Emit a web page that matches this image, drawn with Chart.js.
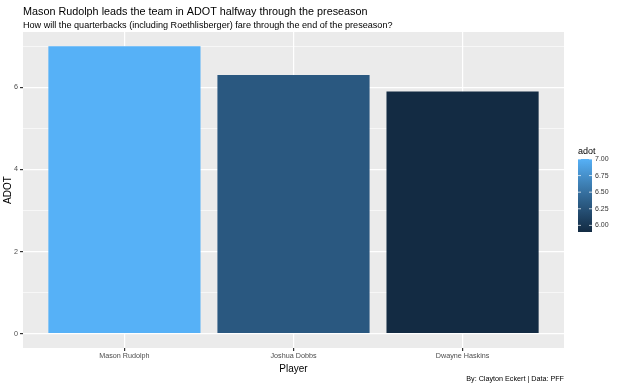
<!DOCTYPE html>
<html>
<head>
<meta charset="utf-8">
<script src="https://cdn.jsdelivr.net/npm/chart.js@4"></script>
<style>
  html, body { margin: 0; padding: 0; background: #fff; }
  #wrap { width: 620px; height: 386px; }
</style>
</head>
<body>
<div id="wrap"><canvas id="adotChart" width="620" height="386"></canvas></div>
<script>
const players = ["Mason Rudolph", "Joshua Dobbs", "Dwayne Haskins"];
const adot = [7.0, 6.3, 5.9];
const yBreaks = [0, 1, 2, 3, 4, 5, 6, 7];
const legendBreaks = [6.0, 6.25, 6.5, 6.75, 7.0];

const FONT = "'Liberation Sans', Arial, sans-serif";
const LOW = "#132B43", HIGH = "#56B1F7";

// ggplot style gradient, interpolated in Lab space
function hexToRgb(h) {
  return [1, 3, 5].map((i) => parseInt(h.slice(i, i + 2), 16));
}
function rgbToLab(rgb) {
  const [r, g, b] = rgb.map((v) => {
    v /= 255;
    return v > 0.04045 ? Math.pow((v + 0.055) / 1.055, 2.4) : v / 12.92;
  });
  let x = (r * 0.4124 + g * 0.3576 + b * 0.1805) / 0.95047;
  let y = r * 0.2126 + g * 0.7152 + b * 0.0722;
  let z = (r * 0.0193 + g * 0.1192 + b * 0.9505) / 1.08883;
  const f = (t) => (t > 0.008856 ? Math.cbrt(t) : 7.787 * t + 16 / 116);
  x = f(x); y = f(y); z = f(z);
  return [116 * y - 16, 500 * (x - y), 200 * (y - z)];
}
function labToRgb(lab) {
  let y = (lab[0] + 16) / 116, x = lab[1] / 500 + y, z = y - lab[2] / 200;
  const f = (t) => (t * t * t > 0.008856 ? t * t * t : (t - 16 / 116) / 7.787);
  x = f(x) * 0.95047; y = f(y); z = f(z) * 1.08883;
  let r = x * 3.2406 + y * -1.5372 + z * -0.4986;
  let g = x * -0.9689 + y * 1.8758 + z * 0.0415;
  let b = x * 0.0557 + y * -0.204 + z * 1.057;
  return [r, g, b].map((v) => {
    v = v > 0.0031308 ? 1.055 * Math.pow(v, 1 / 2.4) - 0.055 : 12.92 * v;
    return Math.round(Math.max(0, Math.min(1, v)) * 255);
  });
}
const lowLab = rgbToLab(hexToRgb(LOW)), highLab = rgbToLab(hexToRgb(HIGH));
const vMin = Math.min(...adot), vMax = Math.max(...adot);
function fillFor(v) {
  const t = (v - vMin) / (vMax - vMin);
  const lab = lowLab.map((c, i) => c + (highLab[i] - c) * t);
  return "rgb(" + labToRgb(lab).join(",") + ")";
}

const ggplotLook = {
  id: "ggplotLook",
  beforeDraw(chart) {
    const { ctx, chartArea: a } = chart;
    ctx.save();
    ctx.fillStyle = "#EBEBEB";
    ctx.fillRect(a.left, a.top, a.right - a.left, a.bottom - a.top);
    ctx.restore();
  },
  afterDraw(chart) {
    const { ctx } = chart;
    ctx.save();
    ctx.fillStyle = "#000";
    ctx.textBaseline = "alphabetic";
    ctx.textAlign = "left";
    ctx.font = "10.8px " + FONT;
    ctx.fillText("Mason Rudolph leads the team in ADOT halfway through the preseason", 23, 15);
    ctx.font = "9.1px " + FONT;
    ctx.fillText("How will the quarterbacks (including Roethlisberger) fare through the end of the preseason?", 23, 28);
    ctx.font = "7.2px " + FONT;
    ctx.textAlign = "right";
    ctx.fillText("By: Clayton Eckert | Data: PFF", 564, 381);

    // colourbar legend
    const bx = 578, bw = 14, top = 159, bottom = 232;
    const pos = (v) => bottom - ((v - vMin) / (vMax - vMin)) * (bottom - top);
    const grad = ctx.createLinearGradient(0, bottom, 0, top);
    for (let i = 0; i <= 10; i++) grad.addColorStop(i / 10, fillFor(vMin + (vMax - vMin) * i / 10));
    ctx.fillStyle = grad;
    ctx.fillRect(bx, top, bw, bottom - top);
    ctx.strokeStyle = "rgba(255,255,255,0.9)";
    ctx.lineWidth = 0.8;
    ctx.textAlign = "left";
    ctx.textBaseline = "middle";
    ctx.font = "7px " + FONT;
    ctx.fillStyle = "#333";
    legendBreaks.forEach((v) => {
      const y = pos(v);
      ctx.beginPath();
      ctx.moveTo(bx, y); ctx.lineTo(bx + 3, y);
      ctx.moveTo(bx + bw - 3, y); ctx.lineTo(bx + bw, y);
      ctx.stroke();
      ctx.fillText(v.toFixed(2), bx + bw + 3, y);
    });
    ctx.fillStyle = "#000";
    ctx.font = "9px " + FONT;
    ctx.textBaseline = "alphabetic";
    ctx.fillText("adot", bx, 154);
    ctx.restore();
  },
};

new Chart(document.getElementById("adotChart"), {
  type: "bar",
  data: {
    datasets: [
      {
        label: "adot",
        data: players.map((p, i) => ({ x: i + 1, y: adot[i] })),
        backgroundColor: adot.map(fillFor),
        borderWidth: 0,
        barPercentage: 0.9,
        categoryPercentage: 1,
      },
    ],
  },
  options: {
    responsive: false,
    animation: false,
    layout: { padding: { top: 32, right: 56, bottom: 0, left: 0 } },
    plugins: { legend: { display: false }, tooltip: { enabled: false } },
    scales: {
      x: {
        type: "linear",
        offset: false,
        min: 0.4,
        max: 3.6,
        afterBuildTicks: (s) => { s.ticks = players.map((p, i) => ({ value: i + 1 })); },
        afterFit: (s) => { s.height = 38; },
        ticks: {
          callback: (v) => players[v - 1],
          font: { family: FONT, size: 7.2 },
          color: "#4D4D4D",
          padding: 1,
          maxRotation: 0,
        },
        grid: { offset: false, color: "#FFFFFF", lineWidth: 1.2, tickColor: "#333333", tickLength: 3 },
        border: { display: false },
        title: { display: true, text: "Player", font: { family: FONT, size: 10 }, color: "#000", padding: { top: 0, bottom: 11 } },
      },
      y: {
        min: -0.35,
        max: 7.35,
        afterBuildTicks: (s) => { s.ticks = yBreaks.map((v) => ({ value: v })); },
        afterFit: (s) => { s.width = 23; },
        ticks: {
          callback: (v) => (v % 2 === 0 ? String(v) : ""),
          font: { family: FONT, size: 7.2 },
          color: "#4D4D4D",
          padding: 2,
        },
        grid: {
          color: "#FFFFFF",
          lineWidth: (c) => (c.tick && c.tick.value % 2 === 0 ? 1.2 : 0.6),
          tickColor: (c) => (c.tick && c.tick.value % 2 === 0 ? "#333333" : "rgba(0,0,0,0)"),
          tickLength: 3,
        },
        border: { display: false },
        title: { display: true, text: "ADOT", font: { family: FONT, size: 10 }, color: "#000", padding: { top: 2, bottom: 0 } },
      },
    },
  },
  plugins: [ggplotLook],
});
</script>
</body>
</html>
